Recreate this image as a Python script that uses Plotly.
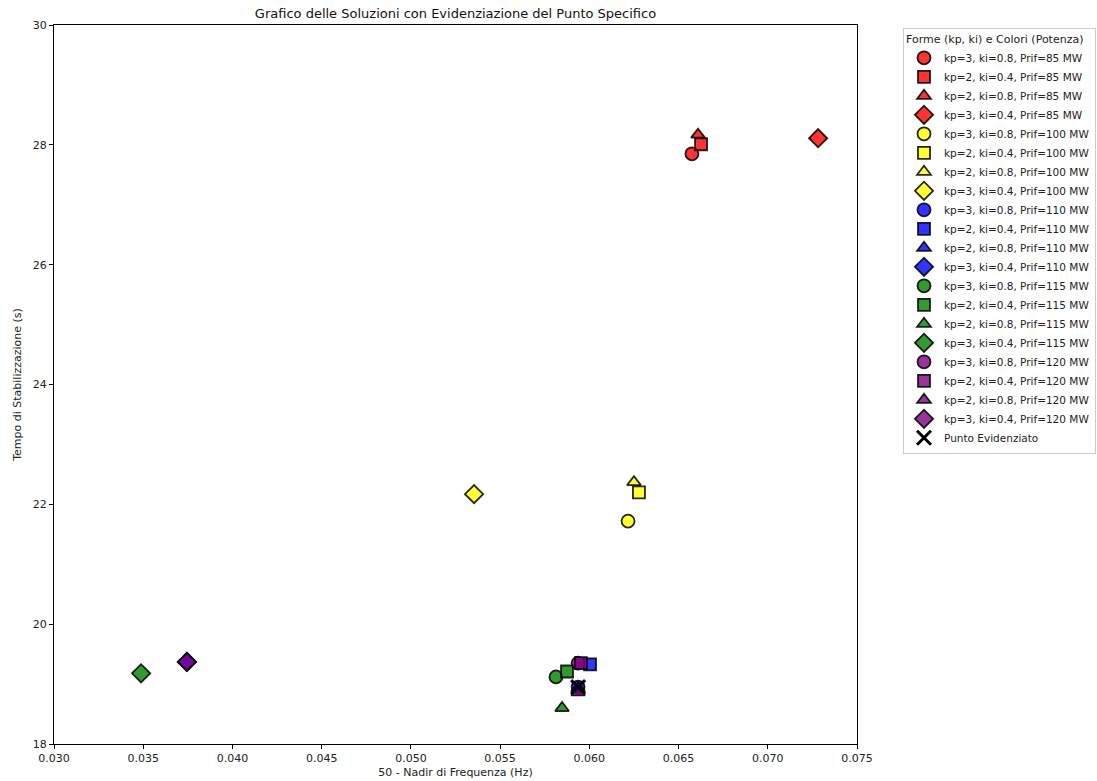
import plotly.graph_objects as go

# Data
powers = [85, 100, 110, 115, 120]
colors = ["rgba(255,0,0,0.8)", "rgba(255,255,0,0.8)", "rgba(0,0,255,0.8)",
          "rgba(0,128,0,0.8)", "rgba(128,0,128,0.8)"]
combo_labels = ["kp=3, ki=0.8", "kp=2, ki=0.4", "kp=2, ki=0.8", "kp=3, ki=0.4"]
symbols = ["circle", "square", "triangle-up", "diamond"]
sizes = [13, 12, 12, 14]

# x: 50 - Nadir (Hz), ordered per combo [circle, square, triangle, diamond]
x_85 = [0.06575, 0.06626, 0.06609, 0.07282]
y_85 = [27.85, 28.01, 28.17, 28.11]
x_100 = [0.06217, 0.06278, 0.06250, 0.05354]
y_100 = [21.72, 22.20, 22.37, 22.17]
x_110 = [0.05937, 0.06004, 0.05937, 0.03745]
y_110 = [18.95, 19.33, 18.93, 19.37]
x_115 = [0.05813, 0.05875, 0.05847, 0.03488]
y_115 = [19.12, 19.21, 18.60, 19.18]
x_120 = [0.05937, 0.05953, 0.05937, 0.03745]
y_120 = [19.35, 19.35, 18.86, 19.37]

xs = [x_85, x_100, x_110, x_115, x_120]
ys = [y_85, y_100, y_110, y_115, y_120]

highlight_x = [0.05937]
highlight_y = [18.95]

fig = go.Figure()
for p, col, xv, yv in zip(powers, colors, xs, ys):
    for i, (lab, sym, sz) in enumerate(zip(combo_labels, symbols, sizes)):
        fig.add_trace(go.Scatter(
            x=[xv[i]], y=[yv[i]], mode="markers",
            name=f"{lab}, Prif={p} MW",
            marker=dict(symbol=sym, size=sz, color=col,
                        line=dict(color="rgba(0,0,0,0.85)", width=1.8)),
        ))

fig.add_trace(go.Scatter(
    x=highlight_x, y=highlight_y, mode="markers", name="Punto Evidenziato",
    marker=dict(symbol="x-thin", size=14, color="black",
                line=dict(color="black", width=3)),
))

fig.update_layout(
    width=1097, height=781,
    paper_bgcolor="white", plot_bgcolor="white",
    margin=dict(l=54, r=240, t=25, b=37, autoexpand=False),
    font=dict(family="DejaVu Sans", size=11, color="#222"),
    title=dict(text="Grafico delle Soluzioni con Evidenziazione del Punto Specifico",
               x=(54 + 857) / 2 / 1097, xanchor="center", y=1 - 13 / 781, yanchor="middle",
               font=dict(size=13, color="#111")),
    legend=dict(
        title=dict(text="Forme (kp, ki) e Colori (Potenza)", font=dict(size=11)),
        xref="container", yref="container",
        x=903 / 1097, xanchor="left", y=1 - 28 / 781, yanchor="top",
        bordercolor="#cccccc", borderwidth=1, bgcolor="white",
        font=dict(size=10.5), tracegroupgap=0, itemsizing="trace",
        maxheight=760,
    ),
    showlegend=True,
)
fig.update_xaxes(range=[0.030, 0.075], dtick=0.005, tickformat=".3f",
                 showgrid=False, zeroline=False, showline=True, linecolor="black",
                 linewidth=1, mirror=True, ticks="outside", ticklen=4,
                 tickcolor="black", automargin=False,
                 title=dict(text="50 - Nadir di Frequenza (Hz)", standoff=4, font=dict(size=11)))
fig.update_yaxes(range=[18, 30], dtick=2,
                 showgrid=False, zeroline=False, showline=True, linecolor="black",
                 linewidth=1, mirror=True, ticks="outside", ticklen=4,
                 tickcolor="black", automargin=False,
                 title=dict(text="Tempo di Stabilizzazione (s)", standoff=8, font=dict(size=11)))

fig.write_html("out.html")
